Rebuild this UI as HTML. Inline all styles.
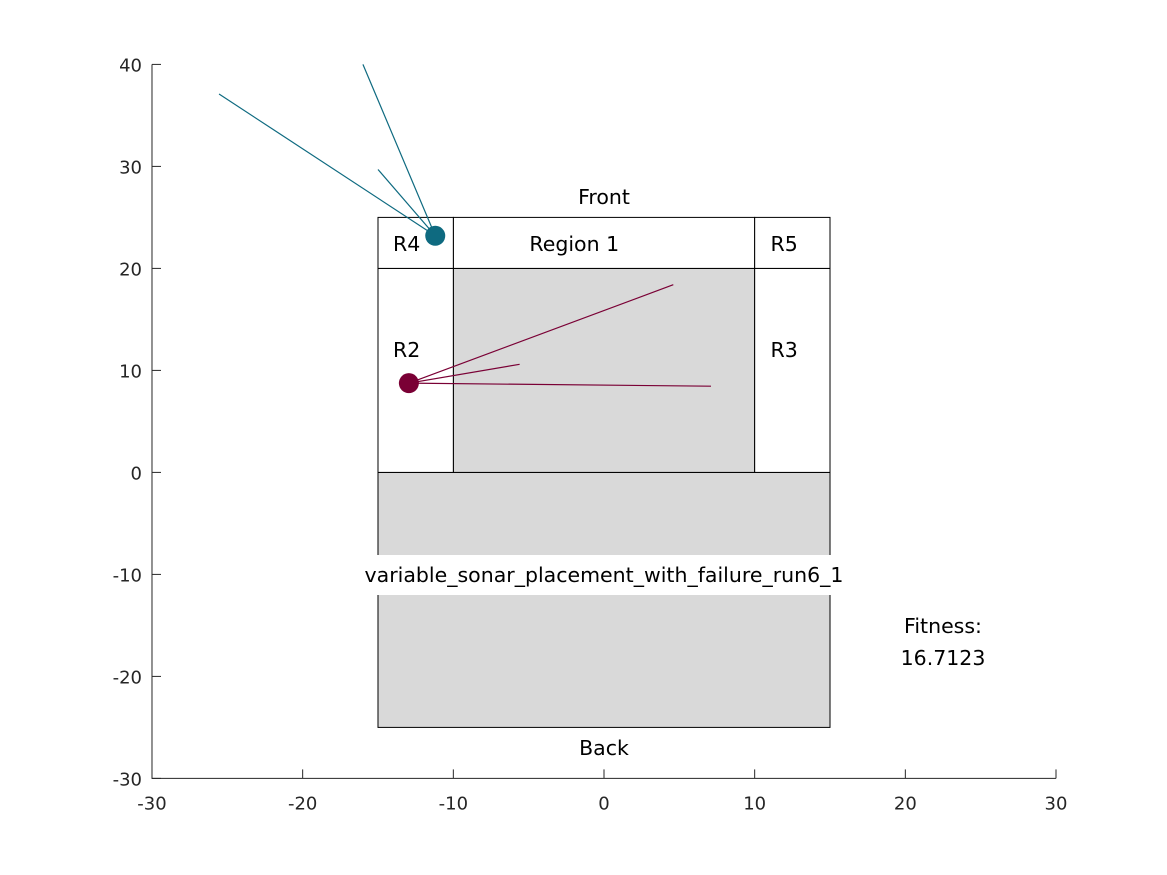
<!DOCTYPE html>
<html><head><meta charset="utf-8">
<style>
body{margin:0;background:#fff;}
svg{display:block;font-family:"DejaVu Sans","Liberation Sans",sans-serif;}
</style></head>
<body>
<svg id="chart" width="1167" height="875" viewBox="0 0 1167 875" xmlns="http://www.w3.org/2000/svg"></svg>
<script>
const xTicks=[-30,-20,-10,0,10,20,30];
const yTicks=[-30,-20,-10,0,10,20,30,40];
const regionNames=["back","center","region-1","r2","r3","r4","r5"];
const regionX0=[-15,-10,-10,-15,10,-15,10];
const regionX1=[15,10,10,-10,15,-10,15];
const regionY0=[-25,0,20,0,0,20,20];
const regionY1=[0,20,25,20,20,25,25];
const regionGray=[true,true,false,false,false,false,false];
const regionLabels=["","","Region 1","R2","R3","R4","R5"];
const labelX=[0,0,-4.95,-14.0,11.05,-14.0,11.05];
const labelY=[0,0,22.3,11.9,11.9,22.3,22.3];
const sensorX=[-11.2,-12.95];
const sensorY=[23.2,8.75];
const sensorColor=["#0e6a80","#7a0035"];
const beamEndX=[[-25.55,-16,-15],[4.6,-5.6,7.1]];
const beamEndY=[[37.1,40,29.7],[18.4,10.6,8.45]];
const fitness="16.7123";

const svg=document.getElementById('chart');
const NS="http://www.w3.org/2000/svg";
const X=v=>604+v*15.067;
const Y=v=>472.4-v*10.2;
function mk(t,a){const e=document.createElementNS(NS,t);for(const k in a)e.setAttribute(k,a[k]);svg.appendChild(e);return e;}
regionNames.forEach((n,i)=>{
  const r=mk('rect',{x:X(regionX0[i]),y:Y(regionY1[i]),width:X(regionX1[i])-X(regionX0[i]),height:Y(regionY0[i])-Y(regionY1[i]),fill:regionGray[i]?'#d9d9d9':'#fff',stroke:'#000','stroke-width':1});
  
  
});
regionNames.forEach((n,i)=>{
  if(regionLabels[i]){
    const t=mk('text',{x:X(labelX[i]),y:Y(labelY[i])+6,'font-size':20.5,fill:'#000'});
    t.textContent=regionLabels[i];
    
    
  }
});
sensorX.forEach((sx,i)=>{
  beamEndX[i].forEach((ex,j)=>{
    const l=mk('line',{x1:X(sx),y1:Y(sensorY[i]),x2:X(ex),y2:Y(beamEndY[i][j]),stroke:sensorColor[i],'stroke-width':1.2});
    
    
  });
});
sensorX.forEach((sx,i)=>{
  const c=mk('circle',{cx:X(sx),cy:Y(sensorY[i]),r:10,fill:sensorColor[i]});
  
  
});
const ax=mk('path',{d:`M${X(-30)} ${Y(40)}V${Y(-30)}H${X(30)}`,fill:'none',stroke:'#262626','stroke-width':1});


xTicks.forEach(v=>{
  const l=mk('line',{x1:X(v),x2:X(v),y1:Y(-30),y2:Y(-30)-9,stroke:'#262626'});
  
  
  const t=mk('text',{x:X(v),y:Y(-30)+31,'font-size':18,'text-anchor':'middle',fill:'#262626'});
  t.textContent=v;
  
  
});
yTicks.forEach(v=>{
  const l=mk('line',{x1:X(-30),x2:X(-30)+9,y1:Y(v),y2:Y(v),stroke:'#262626'});
  
  
  const t=mk('text',{x:X(-30)-10,y:Y(v)+7,'font-size':18,'text-anchor':'end',fill:'#262626'});
  t.textContent=v;
  
  
});
function txt(s,x,y,name){const t=mk('text',{x:x,y:y,'font-size':20.5,'text-anchor':'middle',fill:'#000'});t.textContent=s;return t;}
txt('Front',604,204,'front-label');
txt('Back',604,755,'back-label');
const bg=mk('rect',{x:352,y:555,width:505,height:40,fill:'#fff'});


txt('variable_sonar_placement_with_failure_run6_1',604,582,'run-title');
txt('Fitness:',943,633,'fitness-label');
txt(fitness,943,665,'fitness-value');
</script>
</body></html>
